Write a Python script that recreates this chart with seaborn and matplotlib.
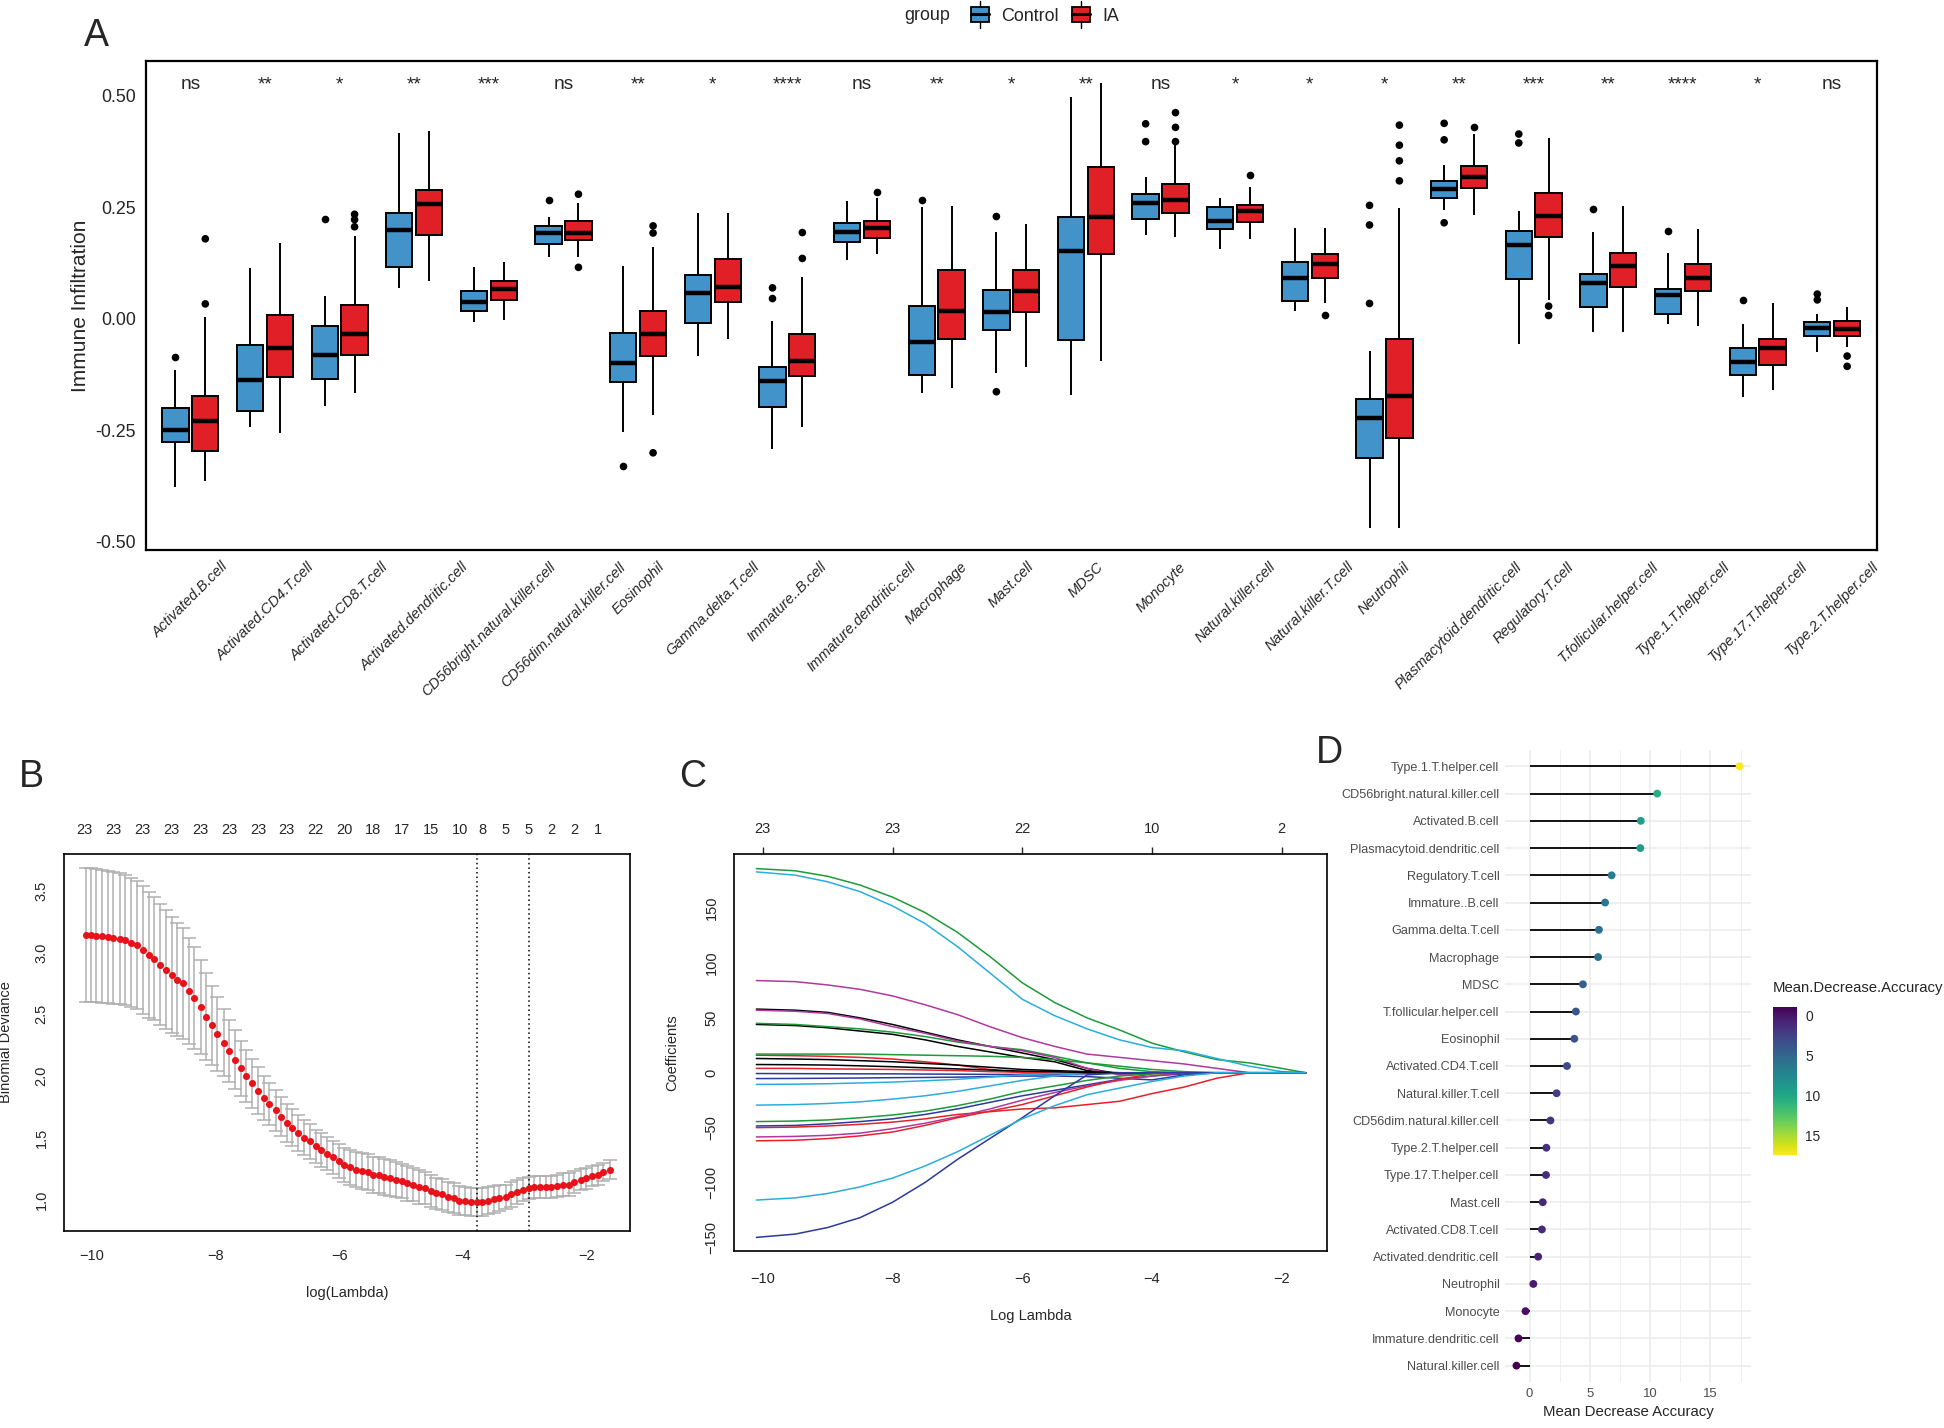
import numpy as np
import pandas as pd
import seaborn as sns
import matplotlib.pyplot as plt
from matplotlib import font_manager
from matplotlib.patches import Rectangle, Patch
from matplotlib.lines import Line2D
from matplotlib.legend_handler import HandlerBase
from matplotlib.colors import Normalize
from matplotlib.cm import ScalarMappable

# ---------------- Panel A: immune infiltration box stats ----------------
cells = ['Activated.B.cell', 'Activated.CD4.T.cell', 'Activated.CD8.T.cell',
         'Activated.dendritic.cell', 'CD56bright.natural.killer.cell',
         'CD56dim.natural.killer.cell', 'Eosinophil', 'Gamma.delta.T.cell',
         'Immature..B.cell', 'Immature.dendritic.cell', 'Macrophage', 'Mast.cell',
         'MDSC', 'Monocyte', 'Natural.killer.cell', 'Natural.killer.T.cell',
         'Neutrophil', 'Plasmacytoid.dendritic.cell', 'Regulatory.T.cell',
         'T.follicular.helper.cell', 'Type.1.T.helper.cell', 'Type.17.T.helper.cell',
         'Type.2.T.helper.cell']
groups = ['Control', 'IA']
signif = ['ns', '**', '*', '**', '***', 'ns', '**', '*', '****', 'ns', '**', '*',
          '**', 'ns', '*', '*', '*', '**', '***', '**', '****', '*', 'ns']

# (lower whisker, q1, median, q3, upper whisker)
ctrl_box = [(-0.377, -0.277, -0.249, -0.201, -0.116), (-0.242, -0.208, -0.138, -0.060, 0.114),
            (-0.195, -0.136, -0.081, -0.016, 0.051), (0.069, 0.116, 0.198, 0.238, 0.417),
            (-0.007, 0.018, 0.038, 0.061, 0.115), (0.138, 0.168, 0.193, 0.208, 0.227),
            (-0.255, -0.143, -0.100, -0.032, 0.118), (-0.083, -0.009, 0.058, 0.098, 0.236),
            (-0.293, -0.198, -0.141, -0.108, -0.005), (0.131, 0.172, 0.195, 0.214, 0.264),
            (-0.167, -0.127, -0.053, 0.028, 0.250), (-0.121, -0.026, 0.015, 0.065, 0.194),
            (-0.171, -0.049, 0.152, 0.229, 0.498), (0.188, 0.224, 0.259, 0.280, 0.317),
            (0.156, 0.200, 0.219, 0.251, 0.270), (0.017, 0.040, 0.091, 0.127, 0.204),
            (-0.470, -0.312, -0.224, -0.181, -0.072), (0.244, 0.271, 0.290, 0.308, 0.345),
            (-0.058, 0.088, 0.164, 0.196, 0.242), (-0.030, 0.026, 0.079, 0.100, 0.194),
            (-0.013, 0.010, 0.053, 0.067, 0.147), (-0.175, -0.127, -0.097, -0.067, -0.013),
            (-0.076, -0.038, -0.022, -0.007, 0.010)]
ia_box = [(-0.365, -0.297, -0.229, -0.173, 0.004), (-0.257, -0.131, -0.065, 0.008, 0.170),
          (-0.167, -0.081, -0.034, 0.031, 0.186), (0.084, 0.187, 0.256, 0.288, 0.421),
          (-0.002, 0.042, 0.066, 0.085, 0.127), (0.138, 0.177, 0.193, 0.218, 0.260),
          (-0.217, -0.083, -0.034, 0.018, 0.160), (-0.045, 0.037, 0.071, 0.134, 0.238),
          (-0.243, -0.129, -0.095, -0.035, 0.093), (0.144, 0.181, 0.204, 0.220, 0.270),
          (-0.155, -0.046, 0.018, 0.108, 0.252), (-0.109, 0.015, 0.063, 0.109, 0.212),
          (-0.095, 0.146, 0.228, 0.340, 0.529), (0.184, 0.236, 0.267, 0.301, 0.389),
          (0.179, 0.216, 0.242, 0.255, 0.296), (0.034, 0.090, 0.122, 0.144, 0.204),
          (-0.470, -0.268, -0.173, -0.045, 0.248), (0.232, 0.292, 0.317, 0.343, 0.413),
          (0.042, 0.183, 0.230, 0.281, 0.405), (-0.029, 0.072, 0.118, 0.147, 0.252),
          (-0.016, 0.063, 0.092, 0.123, 0.200), (-0.160, -0.105, -0.067, -0.045, 0.035),
          (-0.063, -0.038, -0.023, -0.006, 0.026)]
ctrl_out = [[-0.087], [], [0.224], [], [], [0.265], [-0.331], [], [0.069, 0.045], [],
            [0.266], [0.229, -0.164], [], [0.437, 0.397], [], [], [0.254, 0.210, 0.034],
            [0.438, 0.401, 0.215], [0.414, 0.394], [0.245], [0.196], [0.042], [0.055, 0.042]]
ia_out = [[0.033, 0.179], [], [0.234, 0.222, 0.206], [], [], [0.279, 0.115],
          [0.208, 0.192, -0.301], [], [0.193, 0.135], [0.284], [], [], [],
          [0.462, 0.429, 0.397], [0.322], [0.007], [0.434, 0.389, 0.354, 0.309], [0.429],
          [0.028, 0.007], [], [], [], [-0.084, -0.107]]

# ---------------- Panel B: cv binomial deviance ----------------
b_loglam = [-10.10, -10.01, -9.93, -9.83, -9.74, -9.65, -9.55, -9.46, -9.37, -9.27,
            -9.18, -9.08, -8.99, -8.90, -8.80, -8.71, -8.62, -8.52, -8.43, -8.34,
            -8.24, -8.15, -8.06, -7.97, -7.87, -7.78, -7.69, -7.59, -7.50, -7.41,
            -7.31, -7.22, -7.13, -7.03, -6.94, -6.85, -6.76, -6.67, -6.57, -6.48,
            -6.38, -6.29, -6.20, -6.10, -6.01, -5.92, -5.82, -5.73, -5.64, -5.54,
            -5.46, -5.36, -5.27, -5.18, -5.08, -4.99, -4.90, -4.80, -4.71, -4.62,
            -4.52, -4.43, -4.34, -4.24, -4.15, -4.06, -3.97, -3.87, -3.78, -3.69,
            -3.59, -3.50, -3.41, -3.31, -3.22, -3.13, -3.03, -2.94, -2.85, -2.76,
            -2.66, -2.57, -2.48, -2.38, -2.29, -2.20, -2.10, -2.01, -1.92, -1.82,
            -1.73, -1.63]
b_dev = [3.14, 3.14, 3.135, 3.13, 3.125, 3.12, 3.11, 3.10, 3.08, 3.06,
         3.02, 2.98, 2.95, 2.90, 2.86, 2.82, 2.78, 2.75, 2.69, 2.63,
         2.56, 2.48, 2.41, 2.34, 2.27, 2.20, 2.13, 2.06, 2.00, 1.94,
         1.88, 1.82, 1.77, 1.72, 1.67, 1.62, 1.58, 1.54, 1.50, 1.47,
         1.43, 1.40, 1.37, 1.34, 1.31, 1.28, 1.26, 1.24, 1.23, 1.22,
         1.20, 1.20, 1.18, 1.17, 1.16, 1.15, 1.13, 1.12, 1.10, 1.09,
         1.07, 1.05, 1.04, 1.02, 1.01, 0.99, 0.985, 0.98, 0.98, 0.98,
         0.99, 1.00, 1.01, 1.02, 1.04, 1.06, 1.08, 1.09, 1.10, 1.10,
         1.10, 1.10, 1.11, 1.12, 1.12, 1.14, 1.16, 1.17, 1.19, 1.20,
         1.22, 1.24]
b_sd = [0.54, 0.54, 0.54, 0.54, 0.535, 0.535, 0.53, 0.53, 0.525, 0.52,
        0.515, 0.51, 0.50, 0.49, 0.48, 0.47, 0.46, 0.45, 0.43, 0.41,
        0.38, 0.35, 0.32, 0.30, 0.27, 0.25, 0.24, 0.22, 0.21, 0.20,
        0.19, 0.18, 0.17, 0.165, 0.16, 0.155, 0.15, 0.145, 0.14, 0.14,
        0.135, 0.135, 0.135, 0.135, 0.14, 0.14, 0.14, 0.14, 0.145, 0.145,
        0.145, 0.145, 0.145, 0.145, 0.14, 0.14, 0.14, 0.135, 0.135, 0.13,
        0.13, 0.125, 0.125, 0.12, 0.12, 0.12, 0.115, 0.115, 0.115, 0.115,
        0.11, 0.11, 0.105, 0.10, 0.10, 0.095, 0.095, 0.09, 0.09, 0.09,
        0.09, 0.09, 0.09, 0.09, 0.09, 0.09, 0.085, 0.085, 0.08, 0.08,
        0.075, 0.075]
b_vlines = [-3.776, -2.94]
b_top_pos = [-10.12, -9.65, -9.18, -8.71, -8.24, -7.78, -7.31, -6.85, -6.39, -5.92,
             -5.46, -4.99, -4.52, -4.05, -3.68, -3.31, -2.94, -2.57, -2.20, -1.82]
b_top_lab = ['23', '23', '23', '23', '23', '23', '23', '23', '22', '20',
             '18', '17', '15', '10', '8', '5', '5', '2', '2', '1']

# ---------------- Panel C: lasso coefficient paths ----------------
c_loglam = [-10.1, -9.5, -9, -8.5, -8, -7.5, -7, -6.5, -6, -5.5, -5, -4.5, -4, -3.5, -3, -2.5, -2, -1.63]
coef_paths = [
    [58, 57, 55, 50, 44, 37, 30, 24, 18, 12, 4, -1, 0, 0, 0, 0, 0, 0],
    [16, 15.5, 15, 14, 12.5, 10, 7, 3, 0, 0, 0, 0, 0, 0, 0, 0, 0, 0],
    [186, 184, 179, 171, 160, 146, 128, 106, 82, 64, 50, 39, 27, 19, 12, 9, 4, 0],
    [-0.7, -0.8, -0.9, -1, -1, -1.2, -1.3, -1.5, -1.5, -1.2, -1, -0.5, 0, 0, 0, 0, 0, 0],
    [183, 180, 174, 165, 152, 136, 115, 91, 67, 52, 40, 30, 23, 20, 13, 6, 1, 0],
    [84, 83, 80, 76, 70, 62, 53, 42, 32, 24, 17, 14, 11, 8, 4, 0, 0, 0],
    [44, 43, 41, 38, 35, 30, 24, 19, 14, 10, 2, -1, 0, 0, 0, 0, 0, 0],
    [4, 4, 3.5, 3.3, 3, 2.5, 2, 1, 0.5, 0, 0, 0, 0, 0, 0, 0, 0, 0],
    [45, 44, 42, 40, 37, 33, 28, 24, 21, 15, 9, 4, 1, 0, 0, 0, 0, 0],
    [-5.3, -5.2, -5, -4.8, -4.5, -4.3, -4, -3.5, -3, -3, -3.5, -5, -6.5, -2, 0, 0, 0, 0],
    [-10.6, -10.4, -10, -9.3, -8.5, -7.3, -6, -4, -2, -0.5, 0, 0, 0, 0, 0, 0, 0, 0],
    [57, 56, 54, 49, 42, 36, 29, 24, 20, 14, 4, -2, 0, 0, 0, 0, 0, 0],
    [13, 12.5, 12, 11, 10, 8.5, 7, 5, 3, 2, 1, 0, 0, 0, 0, 0, 0, 0],
    [-50, -49.5, -48.5, -47, -45, -42, -38, -35.5, -33, -32, -29, -26, -19, -13, -5, 0, 0, 0],
    [17, 17, 17, 17, 16.5, 16, 15.5, 15, 14, 12, 9, 6, 3, 1, 0, 0, 0, 0],
    [-48.5, -48, -46.5, -44.5, -42, -38, -33, -27, -21, -16, -11, -6, -3, -1, 0, 0, 0, 0],
    [-29.5, -29, -28, -26.5, -24, -21, -17, -12, -7, -3, 0, 0, 0, 0, 0, 0, 0, 0],
    [-58.5, -58, -57, -55, -51, -46, -40, -33, -25, -18, -12, -7, -3, 0, 0, 0, 0, 0],
    [7.5, 7.3, 7, 6.3, 5.5, 4.5, 3.5, 2.5, 1.5, 1, 0, 0, 0, 0, 0, 0, 0, 0],
    [-62, -61.5, -60, -57.5, -54, -48, -41, -35, -29, -21, -13, -6, -1, 0, 0, 0, 0, 0],
    [-44.5, -44, -43, -41, -38.5, -35, -30, -24, -17, -12, -7, -3, -1, 0, 0, 0, 0, 0],
    [-150, -147, -141, -132, -118, -100, -79, -60, -41, -21, -2, 0, 0, 0, 0, 0, 0, 0],
    [-116, -114, -110, -104, -96, -85, -72, -57, -42, -30, -20, -14, -8, -3, 0, 0, 0, 0],
]
c_top_pos = [-10, -8, -6, -4, -2]
c_top_lab = ['23', '23', '22', '10', '2']

# ---------------- Panel D: random forest importance ----------------
d_cells = ['Type.1.T.helper.cell', 'CD56bright.natural.killer.cell', 'Activated.B.cell',
           'Plasmacytoid.dendritic.cell', 'Regulatory.T.cell', 'Immature..B.cell',
           'Gamma.delta.T.cell', 'Macrophage', 'MDSC', 'T.follicular.helper.cell',
           'Eosinophil', 'Activated.CD4.T.cell', 'Natural.killer.T.cell',
           'CD56dim.natural.killer.cell', 'Type.2.T.helper.cell', 'Type.17.T.helper.cell',
           'Mast.cell', 'Activated.CD8.T.cell', 'Activated.dendritic.cell', 'Neutrophil',
           'Monocyte', 'Immature.dendritic.cell', 'Natural.killer.cell']
d_values = [17.41, 10.58, 9.22, 9.18, 6.80, 6.26, 5.75, 5.68, 4.42, 3.84, 3.71, 3.10,
            2.24, 1.73, 1.39, 1.36, 1.09, 1.02, 0.71, 0.31, -0.34, -0.92, -1.09]

# ---------------- style ----------------
sns.set_style('white')
installed = {f.name for f in font_manager.fontManager.ttflist}
NARROW = 'Liberation Sans Narrow' if 'Liberation Sans Narrow' in installed else 'Liberation Sans'
K = 1.0 if NARROW == 'Liberation Sans Narrow' else 0.86
NFAM = [NARROW, 'DejaVu Sans']
plt.rcParams['font.family'] = ['Liberation Sans', 'DejaVu Sans']

W, H = 1944, 1428
fig = plt.figure(figsize=(W / 100, H / 100), dpi=100)


def box_axes(left, top, right, bottom):
    return fig.add_axes([left / W, 1 - bottom / H, (right - left) / W, (bottom - top) / H])


pal = {'Control': '#4393CB', 'IA': '#E11F26'}

# ---------------- A ----------------
rows = []
outs = []
for i, cell in enumerate(cells):
    for g, st, ol in (('Control', ctrl_box[i], ctrl_out[i]), ('IA', ia_box[i], ia_out[i])):
        rows += [(cell, g, v) for v in st]
        outs += [(cell, g, v) for v in ol]
box_df = pd.DataFrame(rows, columns=['cell', 'group', 'value'])
out_df = pd.DataFrame(outs, columns=['cell', 'group', 'value'])

axA = box_axes(145.6, 60.7, 1877, 550)
sns.boxplot(data=box_df, x='cell', y='value', hue='group', order=cells, hue_order=groups,
            palette=pal, saturation=1, width=0.8, gap=0.12, whis=100, fliersize=0,
            linewidth=1.4, linecolor='black', showcaps=False,
            medianprops={'linewidth': 3.2}, legend=False, ax=axA)
sns.stripplot(data=out_df, x='cell', y='value', hue='group', order=cells, hue_order=groups,
              palette=['black', 'black'], dodge=True, jitter=False, size=5.5, linewidth=0,
              legend=False, ax=axA)
axA.set_xlim(-0.6, 22.6)
axA.set_ylim(-0.519, 0.5785)
axA.set_yticks([-0.5, -0.25, 0, 0.25, 0.5])
axA.set_yticklabels(['-0.50', '-0.25', '0.00', '0.25', '0.50'], family=NFAM, fontsize=15 * K)
axA.set_xticks(range(len(cells)))
axA.set_xticklabels(cells, rotation=45, ha='center', fontstyle='italic', family=NFAM,
                    fontsize=12.2 * K)
axA.tick_params(direction='out', length=4, width=1.2, color='black', pad=3)
axA.set_xlabel('')
axA.set_ylabel('Immune Infiltration', fontsize=15)
axA.yaxis.set_label_coords(-0.032, 0.5)
for s in axA.spines.values():
    s.set_visible(True)
    s.set_color('black')
    s.set_linewidth(1.6)
for i, s in enumerate(signif):
    axA.text(i, 0.515, s, ha='center', va='baseline', fontsize=16 * K, family=NFAM)


class BoxKey(HandlerBase):
    def create_artists(self, legend, orig, xd, yd, w, h, fs, trans):
        x0, y0 = -xd, -yd
        cx = x0 + w / 2
        box = Rectangle((x0 + 0.08 * w, y0 - 0.05 * h), 0.84 * w, 1.1 * h,
                        facecolor=orig.get_facecolor(), edgecolor='black', lw=1.3, transform=trans)
        med = Line2D([x0 + 0.08 * w, x0 + 0.92 * w], [y0 + h / 2] * 2, color='black', lw=2.2,
                     transform=trans)
        top = Line2D([cx, cx], [y0 + 1.05 * h, y0 + 1.5 * h], color='black', lw=1, transform=trans)
        bot = Line2D([cx, cx], [y0 - 0.5 * h, y0 - 0.05 * h], color='black', lw=1, transform=trans)
        return [box, med, top, bot]


handles = [Patch(facecolor=pal[g]) for g in groups]
fig.legend(handles, groups, loc='center left', bbox_to_anchor=(955 / W, 1 - 16 / H),
           ncol=2, frameon=False, handler_map={Patch: BoxKey()}, handlelength=1.2,
           handleheight=0.8, handletextpad=0.6, columnspacing=0.6, borderpad=0.3,
           prop={'family': NFAM, 'size': 15 * K})
fig.text(950 / W, 1 - 16 / H, 'group', ha='right', va='center', fontsize=15 * K, family=NFAM)

# ---------------- B ----------------
axB = box_axes(64, 853.6, 630, 1231)
axB.errorbar(b_loglam, b_dev, yerr=b_sd, fmt='none', ecolor='#B0B0B0', elinewidth=1.1,
             capsize=5, capthick=1.1, zorder=1)
sns.scatterplot(x=b_loglam, y=b_dev, color='#E8121B', s=26, linewidth=0, ax=axB, zorder=3)
for v in b_vlines:
    axB.axvline(v, color='black', ls=(0, (1, 2)), lw=1.1)
axB.set_xlim(-10.449, -1.30)
axB.set_ylim(0.744, 3.80)
axB.set_xticks([-10, -8, -6, -4, -2])
axB.set_yticks([1.0, 1.5, 2.0, 2.5, 3.0, 3.5])
axB.set_yticklabels(['1.0', '1.5', '2.0', '2.5', '3.0', '3.5'])
axB.tick_params(axis='x', direction='out', length=5, width=1, labelsize=10.5, pad=8)
axB.tick_params(axis='y', direction='out', length=5, width=1, labelsize=10.5, pad=6,
                labelrotation=90)
for lab in axB.get_yticklabels():
    lab.set_va('center')
secB = axB.secondary_xaxis('top')
secB.set_xticks(b_top_pos, labels=b_top_lab)
secB.tick_params(length=0, labelsize=10.5, pad=12)
secB.spines['top'].set_visible(False)
axB.set_xlabel('log(Lambda)', fontsize=10.5)
axB.xaxis.set_label_coords(0.5, -0.145)
axB.set_ylabel('Binomial Deviance', fontsize=10.5)
axB.yaxis.set_label_coords(-0.09, 0.5)
for s in axB.spines.values():
    s.set_color('black')
    s.set_linewidth(1.2)

# ---------------- C ----------------
path_colors = ['#000000', '#E8202A', '#1E9A3A', '#2B3A9C', '#29AEDC', '#B0399E'] * 4
path_colors = path_colors[:len(coef_paths)]
path_rows = []
for k, vals in enumerate(coef_paths):
    path_rows += [(f'p{k}', x, y) for x, y in zip(c_loglam, vals)]
path_df = pd.DataFrame(path_rows, columns=['path', 'loglam', 'coef'])

axC = box_axes(733.7, 854, 1327, 1251)
sns.lineplot(data=path_df, x='loglam', y='coef', hue='path', palette=path_colors,
             estimator=None, lw=1.1, legend=False, ax=axC)
axC.set_xlim(-10.449, -1.30)
axC.set_ylim(-162.4, 199.3)
axC.set_xticks([-10, -8, -6, -4, -2])
axC.set_yticks([-150, -100, -50, 0, 50, 100, 150])
axC.tick_params(axis='x', direction='out', length=5, width=1, labelsize=10.5, pad=10)
axC.tick_params(axis='y', direction='out', length=5, width=1, labelsize=10.5, pad=6,
                labelrotation=90)
for lab in axC.get_yticklabels():
    lab.set_va('center')
secC = axC.secondary_xaxis('top')
secC.set_xticks(c_top_pos, labels=c_top_lab)
secC.tick_params(direction='out', length=5, width=1, labelsize=10.5, pad=8)
secC.spines['top'].set_visible(False)
axC.set_xlabel('Log Lambda', fontsize=10.5)
axC.xaxis.set_label_coords(0.5, -0.146)
axC.set_ylabel('Coefficients', fontsize=10.5)
axC.yaxis.set_label_coords(-0.092, 0.5)
for s in axC.spines.values():
    s.set_color('black')
    s.set_linewidth(1.2)

# ---------------- D ----------------
vmin, vmax = min(d_values), max(d_values)
axD = box_axes(1505, 750, 1751, 1382)
sns.scatterplot(x=d_values, y=d_cells, hue=d_values, palette='viridis', hue_norm=(vmin, vmax),
                s=32, linewidth=0, legend=False, ax=axD, zorder=3)
axD.hlines(y=d_cells, xmin=0, xmax=d_values, color='black', lw=1.3, zorder=2)
axD.set_xlim(-2.04, 18.36)
axD.set_ylim(len(d_cells) - 0.4, -0.6)
axD.set_xticks([0, 5, 10, 15])
axD.set_xticks([2.5, 7.5, 12.5, 17.5], minor=True)
axD.grid(True, which='major', color='#EBEBEB', lw=1.1)
axD.grid(True, which='minor', axis='x', color='#EBEBEB', lw=0.55)
axD.set_axisbelow(True)
for s in axD.spines.values():
    s.set_visible(False)
axD.tick_params(which='both', length=0, labelcolor='#4D4D4D', pad=4)
for lab in axD.get_yticklabels():
    lab.set_family(NFAM)
    lab.set_fontsize(10.6 * K)
for lab in axD.get_xticklabels():
    lab.set_family(NFAM)
    lab.set_fontsize(11 * K)
axD.set_xlabel('Mean Decrease Accuracy', fontsize=12.6 * K, family=NFAM)
axD.xaxis.set_label_coords(0.5, -0.036)
axD.set_ylabel('')

cax = box_axes(1773, 1007, 1797, 1155)
cb = fig.colorbar(ScalarMappable(norm=Normalize(vmin, vmax), cmap='viridis'), cax=cax)
cax.set_ylim(vmax, vmin)
cb.set_ticks([0, 5, 10, 15])
cb.outline.set_visible(False)
cax.tick_params(left=True, right=True, direction='in', color='white', length=5, width=1,
                labelsize=11.5 * K, pad=6)
for lab in cax.get_yticklabels():
    lab.set_family(NFAM)
fig.text(1773 / W, 1 - 988 / H, 'Mean.Decrease.Accuracy', ha='left', va='center',
         fontsize=12.5 * K, family=NFAM)

# ---------------- panel letters ----------------
for letter, x, y in (('A', 84, 46), ('B', 19, 787), ('C', 679, 787), ('D', 1316, 763)):
    fig.text(x / W, 1 - y / H, letter, fontsize=27, ha='left', va='baseline')

fig.savefig('out.png', dpi=100)
